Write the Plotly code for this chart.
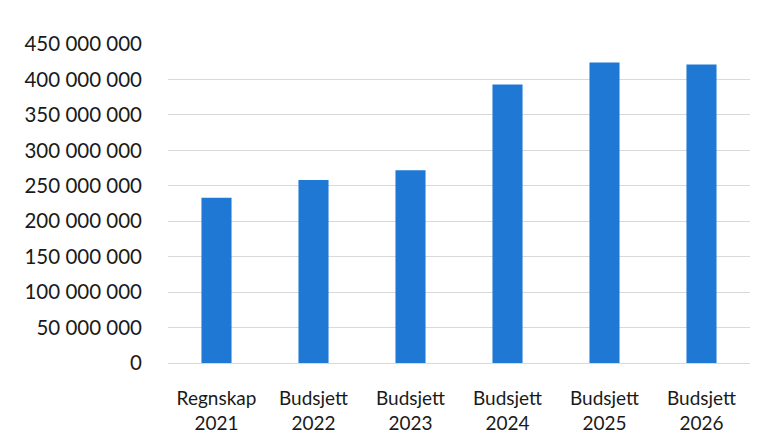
import plotly.graph_objects as go

categories = ["Regnskap<br>2021", "Budsjett<br>2022", "Budsjett<br>2023",
              "Budsjett<br>2024", "Budsjett<br>2025", "Budsjett<br>2026"]
values = [233_000_000, 258_000_000, 272_000_000, 393_000_000, 424_000_000, 421_000_000]
tick_values = [0, 50_000_000, 100_000_000, 150_000_000, 200_000_000,
               250_000_000, 300_000_000, 350_000_000, 400_000_000, 450_000_000]
tick_labels = ["0", "50 000 000", "100 000 000", "150 000 000", "200 000 000",
               "250 000 000", "300 000 000", "350 000 000", "400 000 000", "450 000 000"]

fig = go.Figure(go.Bar(x=categories, y=values, marker=dict(color="#1E78D4", line=dict(width=0))))

fig.update_layout(
    width=763, height=440,
    margin=dict(l=160, r=21, t=36, b=85, autoexpand=False),
    paper_bgcolor="white", plot_bgcolor="white",
    bargap=0.69,
    font=dict(family="Lato", size=19, color="#1A1A1A"),
    showlegend=False,
)
fig.update_xaxes(showgrid=False, showline=False, ticks="", tickfont=dict(size=19),
                 ticklabelstandoff=22, automargin=False)
fig.update_yaxes(range=[0, 450_000_000], tickvals=tick_values, ticktext=tick_labels,
                 showgrid=True, gridcolor="#D9D9D9", gridwidth=1, zeroline=True,
                 zerolinecolor="#D9D9D9", zerolinewidth=1, showline=False, ticks="",
                 ticklabelstandoff=25, tickfont=dict(size=20.5), automargin=False)

fig.write_html("out.html")
